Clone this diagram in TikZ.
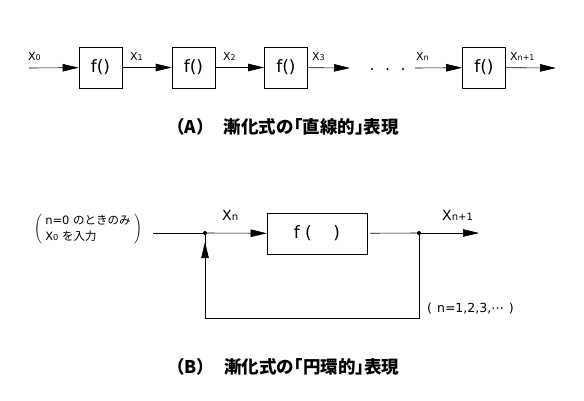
\documentclass[tikz,border=0pt]{standalone}
\usepackage{fontspec}
\setmainfont{DejaVu Sans}
\newfontfamily\jpfont{Noto Sans CJK JP}
\newfontfamily\jphalf[RawFeature=+halt]{Noto Sans CJK JP}
\usetikzlibrary{arrows.meta}

\tikzset{
  fbox/.style={draw, line width=0.6pt, inner sep=0pt, font=\fontsize{17}{17}\selectfont},
  sig/.style={-{Triangle[length=16pt,width=7.5pt]}, line width=0.6pt},
  wire/.style={line width=0.6pt},
  lblA/.style={font=\fontsize{11}{11}\selectfont, inner sep=0pt, anchor=base west},
  lblB/.style={font=\fontsize{14}{14}\selectfont, inner sep=0pt, anchor=base west},
  ttl/.style={font=\jpfont\bfseries\fontsize{17.5}{17.5}\selectfont, inner sep=0pt, anchor=west},
  jdot/.style={circle, fill, inner sep=0pt, minimum size=4pt},
}
\newcommand{\xsub}[1]{X\scalebox{0.72}{#1}}
\newcommand{\hb}[1]{{\jphalf\bfseries #1}}

\begin{document}
\begin{tikzpicture}[x=1pt, y=-1pt]
  \useasboundingbox (0, 0) rectangle (584, 400);

  % (A) straight chain
  \coordinate (a0) at (29, 68);
  \node[fbox, minimum width=43pt, minimum height=41pt] (f1) at (100.5, 67.5) {f()};
  \node[fbox, minimum width=43pt, minimum height=41pt] (f2) at (193.5, 67.5) {f()};
  \node[fbox, minimum width=43pt, minimum height=41pt] (f3) at (286, 67.5) {f()};
  \node[fbox, minimum width=43pt, minimum height=41pt] (f4) at (484, 67.5) {f()};
  \coordinate (a3) at (350, 68);
  \coordinate (an) at (415, 68);
  \coordinate (aout) at (556, 68);
  \draw[sig] (a0) -- (f1);
  \draw[sig] (f1) -- (f2);
  \draw[sig] (f2) -- (f3);
  \draw[sig] (f3) -- (a3);
  \draw[sig] (an) -- (f4);
  \draw[sig] (f4) -- (aout);
  \foreach \i in {372, 387.5, 403}
    \fill (\i, 69) circle (1.1pt);
  \node[lblA] (lx0) at (28, 60) {\xsub{0}};
  \node[lblA] (lx1) at (130, 60) {\xsub{1}};
  \node[lblA] (lx2) at (223, 60) {\xsub{2}};
  \node[lblA] (lx3) at (312, 60) {\xsub{3}};
  \node[lblA] (lxn) at (416, 60) {\xsub{n}};
  \node[lblA] (lxm) at (510, 60) {\xsub{n+1}};
  \node[ttl] (titleA) at (167, 127) {（A）\hspace{10pt}漸化式の\hb{「}直線的\hb{」}表現};

  % (B) loop
  \node[font=\fontsize{11.5}{16}\selectfont, inner sep=0pt] (note) at (88, 229.5)
    {$\left(\;\vcenter{\hbox{\begin{tabular}{@{}l@{}}n=0 {\jpfont のときのみ}\\ \xsub{0} {\jpfont を入力}\end{tabular}}}\;\right)$};
  \coordinate (bin) at (153, 233);
  \node[jdot] (jn) at (205, 233) {};
  \node[fbox, minimum width=100pt, minimum height=41pt] (fB) at (317, 233.5) {f (\ \ \ \ )};
  \node[jdot] (jo) at (419, 233) {};
  \coordinate (bout) at (479, 233);
  \coordinate (br) at (419, 318);
  \coordinate (bl) at (205, 318);
  \draw[wire] (bin) -- (jn.center);
  \draw[sig] (jn.center) -- (fB);
  \draw[wire, shorten <=3pt] (fB) -- (jo.center);
  \draw[sig] (jo.center) -- (bout);
  \draw[wire] (jo.center) -- (br) -- (bl) -- (jn.center);
  \draw[sig] (bl) -- ([yshift=-9pt]jn.center);
  \node[lblB] (lbn) at (222, 220) {\xsub{n}};
  \node[lblB] (lbm) at (442, 220) {\xsub{n+1}};
  \node[font=\fontsize{12.5}{12.5}\selectfont, inner sep=0pt, anchor=west] (range) at (427, 309) {(\hspace{5pt}n=1,2,3,⋯\hspace{5pt})};
  \node[ttl] (titleB) at (167, 367) {（B）\hspace{10pt}漸化式の\hb{「}円環的\hb{」}表現};
\end{tikzpicture}
\end{document}
